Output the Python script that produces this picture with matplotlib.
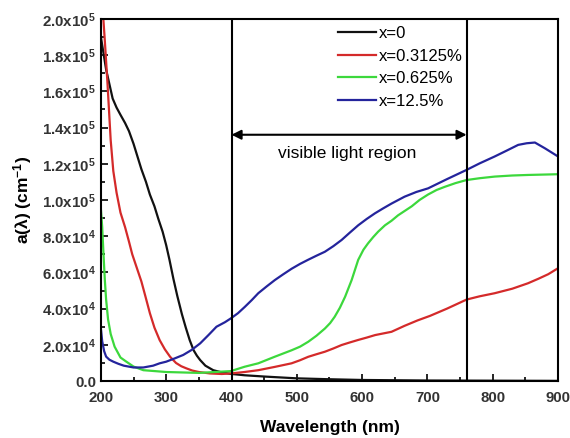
import matplotlib
matplotlib.use("Agg")
import matplotlib.pyplot as plt
from matplotlib.ticker import MultipleLocator, FixedLocator, FixedFormatter

plt.rcParams['font.family'] = ['Liberation Sans', 'DejaVu Sans']
plt.rcParams['mathtext.fontset'] = 'custom'
plt.rcParams['mathtext.rm'] = 'Liberation Sans:bold'
plt.rcParams['mathtext.it'] = 'Liberation Sans:bold'
plt.rcParams['mathtext.bf'] = 'Liberation Sans:bold'
plt.rcParams['mathtext.default'] = 'rm'

# ---- data (wavelength nm, absorption in units of 1e3 cm^-1) ----
wl_x0 = [200, 204, 208, 213, 218, 224, 230, 237, 243, 250, 256, 262, 269, 275, 282, 288,
         294.5, 300, 305, 311, 317, 324, 330, 336, 342, 347, 352, 360, 372, 385, 398, 420,
         450, 500, 550, 600, 700, 800, 900]
a_x0 = [190, 181, 172, 164, 156, 151, 147, 142.5, 138, 131, 124, 117, 110, 103, 96.5, 89.5,
        82.5, 75, 67, 56.5, 47, 37, 29.5, 22.6, 17, 14, 11.6, 8.5, 6, 4.8, 4, 3.2,
        2.5, 1.5, 1, 0.6, 0.3, 0.2, 0.1]

wl_x1 = [200, 203, 206, 210, 215, 219, 224, 230, 237, 243, 248, 255, 262, 268, 275, 282,
         290, 298, 306, 315, 323, 331, 340, 350, 367, 385, 399, 420, 441, 466, 492, 505,
         517.5, 530, 543, 556, 568.6, 581, 594, 607, 620, 645, 665, 685, 704, 730, 760, 780,
         803, 830, 854, 870, 885, 900]
a_x1 = [212, 204, 188, 165, 133, 116, 104, 93, 85, 77, 70, 62.5, 55, 47, 37.5, 29.5,
        22.6, 17.5, 13.4, 10, 8.2, 7, 5.8, 5, 4.2, 3.9, 4.2, 5, 6, 7.8, 9.8, 11.5,
        13.4, 14.8, 16.2, 18, 19.9, 21.3, 22.7, 24, 25.4, 27.2, 30.5, 33.5, 36, 40, 45, 46.8,
        48.5, 51, 54, 56.5, 59, 62.3]

wl_x2 = [200, 202, 204, 206, 208, 211, 215, 221, 230, 239, 250, 265, 300, 350, 399, 420,
         441, 466, 492, 505, 517.5, 530, 543, 551, 558, 566, 574, 584, 594, 602, 609, 617,
         624.6, 635, 645, 655, 665.5, 676, 688, 701, 714, 727, 743, 760, 780, 803, 830, 854,
         900]
a_x2 = [95, 85, 70, 56, 45, 34, 26, 19, 13, 10.7, 8, 6, 5, 4.5, 5.5, 7.9,
        9.8, 13.4, 17, 19, 21.7, 25, 29, 32, 35.5, 40.5, 46.6, 55.8, 66.9, 72.5, 76, 79.5,
        82.5, 86, 88.5, 91.5, 94, 96.5, 100, 103, 105.5, 107.3, 109.3, 111, 112, 112.9, 113.5, 113.8,
        114.2]

wl_x3 = [200, 202, 205, 208, 213, 219, 227, 235, 250, 265, 280, 290, 300, 313, 326, 339,
         352, 365, 377, 390, 399, 410, 420.5, 431, 441, 454, 466.5, 479, 492, 505, 517.5, 530,
         543, 556, 568.6, 581, 594, 607, 619.6, 632, 645, 665, 683, 701, 730, 760, 780, 803,
         820, 839, 852, 864.6, 880, 900]
a_x3 = [29, 22, 16.5, 13.5, 11.8, 10.7, 9.5, 8.5, 7.5, 7.5, 8.5, 9.8, 10.7, 12.5, 14.4, 17.2,
        20.8, 25.5, 30, 32.5, 34.6, 37.5, 41, 44.7, 48.5, 52.3, 55.8, 58.9, 62, 64.7, 67, 69.2,
        71.4, 74.5, 77.9, 81.9, 86, 89.5, 92.6, 95.3, 98, 101.8, 104.4, 106.4, 111.5, 116.6, 120.2, 124,
        127, 130.4, 131.3, 131.7, 128.5, 124]

series = [
    (wl_x0, a_x0, 'x=0', '#111111'),
    (wl_x1, a_x1, 'x=0.3125%', '#d42a2a'),
    (wl_x2, a_x2, 'x=0.625%', '#3cd83c'),
    (wl_x3, a_x3, 'x=12.5%', '#24249c'),
]

vis_bounds = [400, 760]
y_ticks = [0, 20000, 40000, 60000, 80000, 100000, 120000, 140000, 160000, 180000, 200000]
y_tick_labels = ['0.0', r'2.0x10$^{4}$', r'4.0x10$^{4}$', r'6.0x10$^{4}$', r'8.0x10$^{4}$',
                 r'1.0x10$^{5}$', r'1.2x10$^{5}$', r'1.4x10$^{5}$', r'1.6x10$^{5}$',
                 r'1.8x10$^{5}$', r'2.0x10$^{5}$']

fig = plt.figure(figsize=(5.7, 4.38), dpi=100)
ax = fig.add_axes([0.177, 0.130, 0.802, 0.827])

for wl, a, lab, col in series:
    ax.plot(wl, [v * 1000 for v in a], color=col, lw=1.6, label=lab)

for b in vis_bounds:
    ax.axvline(b, color='black', lw=1.5)

ax.annotate('', xy=(vis_bounds[0], 136000), xytext=(vis_bounds[1], 136000),
            arrowprops=dict(arrowstyle='<|-|>', color='black', lw=1.5,
                            mutation_scale=14, shrinkA=0, shrinkB=0))
ax.text(577, 125500, 'visible light region', ha='center', va='center', fontsize=12.5)

ax.set_xlim(200, 900)
ax.set_ylim(0, 200000)
ax.xaxis.set_major_locator(MultipleLocator(100))
ax.xaxis.set_minor_locator(MultipleLocator(50))
ax.yaxis.set_major_locator(FixedLocator(y_ticks))
ax.yaxis.set_major_formatter(FixedFormatter(y_tick_labels))
ax.yaxis.set_minor_locator(MultipleLocator(10000))
ax.tick_params(which='both', direction='in', top=False, right=False, width=1.2)
ax.tick_params(which='major', length=5, labelsize=10.8, colors='black')
ax.tick_params(which='minor', length=3)
ax.tick_params(axis='x', which='major', pad=7)
for lbl in ax.get_xticklabels() + ax.get_yticklabels():
    lbl.set_fontweight('bold')
    lbl.set_color('#333333')
for s in ax.spines.values():
    s.set_linewidth(1.5)

ax.set_xlabel('Wavelength (nm)', fontsize=12.5, fontweight='bold', labelpad=11)
ax.set_ylabel(r'a(λ) (cm$^{-1}$)', fontsize=12.5, fontweight='bold', labelpad=6)

ax.legend(loc='upper left', bbox_to_anchor=(0.496, 1.008), frameon=False, fontsize=12,
          handlelength=2.3, handletextpad=0.2, labelspacing=0.46, borderaxespad=0.2)

fig.savefig('out.png', dpi=100)
